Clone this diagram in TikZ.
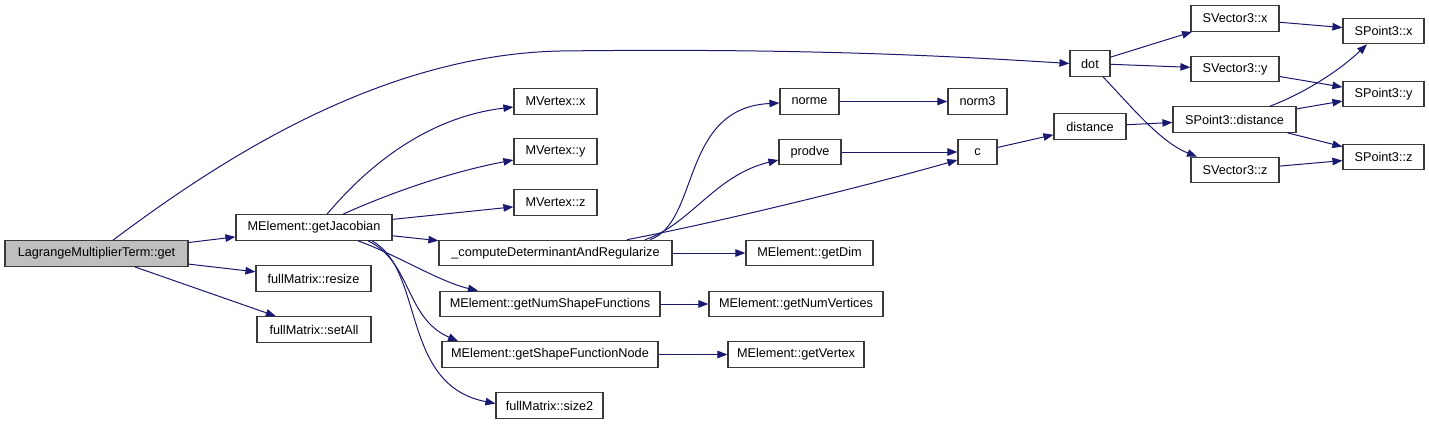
\documentclass[tikz,border=0pt]{standalone}
\usepackage{fontspec}
\setmainfont{Liberation Sans}
\usetikzlibrary{arrows.meta}
\definecolor{edgecol}{HTML}{191970}
\definecolor{boxline}{HTML}{3A3A3A}
\definecolor{rootfill}{HTML}{BFBFBF}
\begin{document}
\begin{tikzpicture}[x=1pt,y=-1pt,
  fn/.style={draw=boxline,line width=1.2pt,fill=white,inner sep=0pt,minimum height=25.5pt,
    font=\fontsize{12.7}{15}\selectfont,anchor=center},
  rootfn/.style={fn,fill=rootfill},
  call/.style={draw=edgecol,line width=1pt,-{Triangle[length=10pt,width=7.5pt]}}]
\useasboundingbox (0,0) rectangle (1429,424);
% nodes
\node[rootfn,minimum width=183pt] (lmt) at (96.5,253.5) {LagrangeMultiplierTerm::get};
\node[fn,minimum width=156pt] (gj) at (314,227.5) {MElement::getJacobian};
\node[fn,minimum width=115pt] (resize) at (313.5,278.5) {fullMatrix::resize};
\node[fn,minimum width=114pt] (setall) at (314,329.5) {fullMatrix::setAll};
\node[fn,minimum width=83pt] (mvx) at (555.5,101.5) {MVertex::x};
\node[fn,minimum width=83pt] (mvy) at (555.5,151.5) {MVertex::y};
\node[fn,minimum width=83pt] (mvz) at (555.5,202.5) {MVertex::z};
\node[fn,minimum width=233pt] (comp) at (555.5,253) {\_computeDeterminantAndRegularize};
\node[fn,minimum width=220pt] (nsf) at (550,304) {MElement::getNumShapeFunctions};
\node[fn,minimum width=216pt] (sfn) at (550,354.5) {MElement::getShapeFunctionNode};
\node[fn,minimum width=107pt] (size2) at (549.5,405.5) {fullMatrix::size2};
\node[fn,minimum width=59pt] (norme) at (809.5,101.5) {norme};
\node[fn,minimum width=62pt] (prodve) at (810,152) {prodve};
\node[fn,minimum width=127pt] (getdim) at (809.5,253) {MElement::getDim};
\node[fn,minimum width=174pt] (nverts) at (796,304) {MElement::getNumVertices};
\node[fn,minimum width=136pt] (getvertex) at (796,354.5) {MElement::getVertex};
\node[fn,minimum width=59pt] (norm3) at (977.5,101.5) {norm3};
\node[fn,minimum width=39pt] (c) at (977.5,152) {c};
\node[fn,minimum width=72pt] (distance) at (1090,126.5) {distance};
\node[fn,minimum width=40pt] (dot) at (1090,63.5) {dot};
\node[fn,minimum width=88pt] (sv3x) at (1235,18.5) {SVector3::x};
\node[fn,minimum width=88pt] (sv3y) at (1235,69) {SVector3::y};
\node[fn,minimum width=88pt] (sv3z) at (1235,170) {SVector3::z};
\node[fn,minimum width=123pt] (sp3d) at (1234.5,119.5) {SPoint3::distance};
\node[fn,minimum width=81pt] (sp3x) at (1383.5,31) {SPoint3::x};
\node[fn,minimum width=81pt] (sp3y) at (1383.5,94) {SPoint3::y};
\node[fn,minimum width=81pt] (sp3z) at (1383.5,157) {SPoint3::z};
% straight connectors
\draw[call] (lmt) -- (gj);
\draw[call] (lmt) -- (resize);
\draw[call] (lmt) -- (setall);
\draw[call] (gj) -- (mvz);
\draw[call] (gj) -- (comp);
\draw[call] (comp) -- (getdim);
\draw[call] (nsf) -- (nverts);
\draw[call] (sfn) -- (getvertex);
\draw[call] (norme) -- (norm3);
\draw[call] (prodve) -- (c);
\draw[call] (c) -- (distance);
\draw[call] (distance) -- (sp3d);
\draw[call] (dot) -- (sv3x);
\draw[call] (dot) -- (sv3y);
\draw[call] (sv3x) -- (sp3x);
\draw[call] (sv3y) -- (sp3y);
\draw[call] (sv3z) -- (sp3z);
\draw[call] (sp3d) -- (sp3y);
\draw[call] (sp3d) -- (sp3z);
% curved connectors
\draw[call] ([xshift=16.5pt]lmt.north) .. controls (220,160) and (380,55) .. (560,51)
  .. controls (800,48) and (950,56) .. (dot.west);
\draw[call] ([xshift=13pt]gj.north) .. controls (360,175) and (420,118) .. ([yshift=-5.5pt]mvx.west);
\draw[call] ([xshift=29pt]gj.north) .. controls (390,193) and (450,172) .. ([yshift=-8.5pt]mvy.west);
\draw[call] ([xshift=44pt]gj.south) .. controls (395,254) and (440,282) .. ([xshift=-72pt]nsf.north);
\draw[call] ([xshift=54pt]gj.south) .. controls (412,262) and (405,318) .. ([xshift=-92pt]sfn.north);
\draw[call] ([xshift=58pt]gj.south) .. controls (425,270) and (400,385) .. ([yshift=2pt]size2.west);
\draw[call] ([xshift=94.5pt]comp.north) .. controls (700,222) and (680,108) .. ([yshift=-1.5pt]norme.west);
\draw[call] ([xshift=89.5pt]comp.north) .. controls (690,225) and (715,175) .. ([yshift=-8pt]prodve.west);
\draw[call] ([xshift=71.5pt]comp.north) .. controls (720,222) and (870,185) .. ([yshift=-8pt]c.west);
\draw[call] ([xshift=13pt]dot.south) .. controls (1130,105) and (1160,142) .. ([xshift=-38pt]sv3z.north);
\draw[call] ([xshift=35.5pt]sp3d.north) .. controls (1305,93) and (1340,70) .. ([xshift=-16.5pt]sp3x.south);
\end{tikzpicture}
\end{document}
